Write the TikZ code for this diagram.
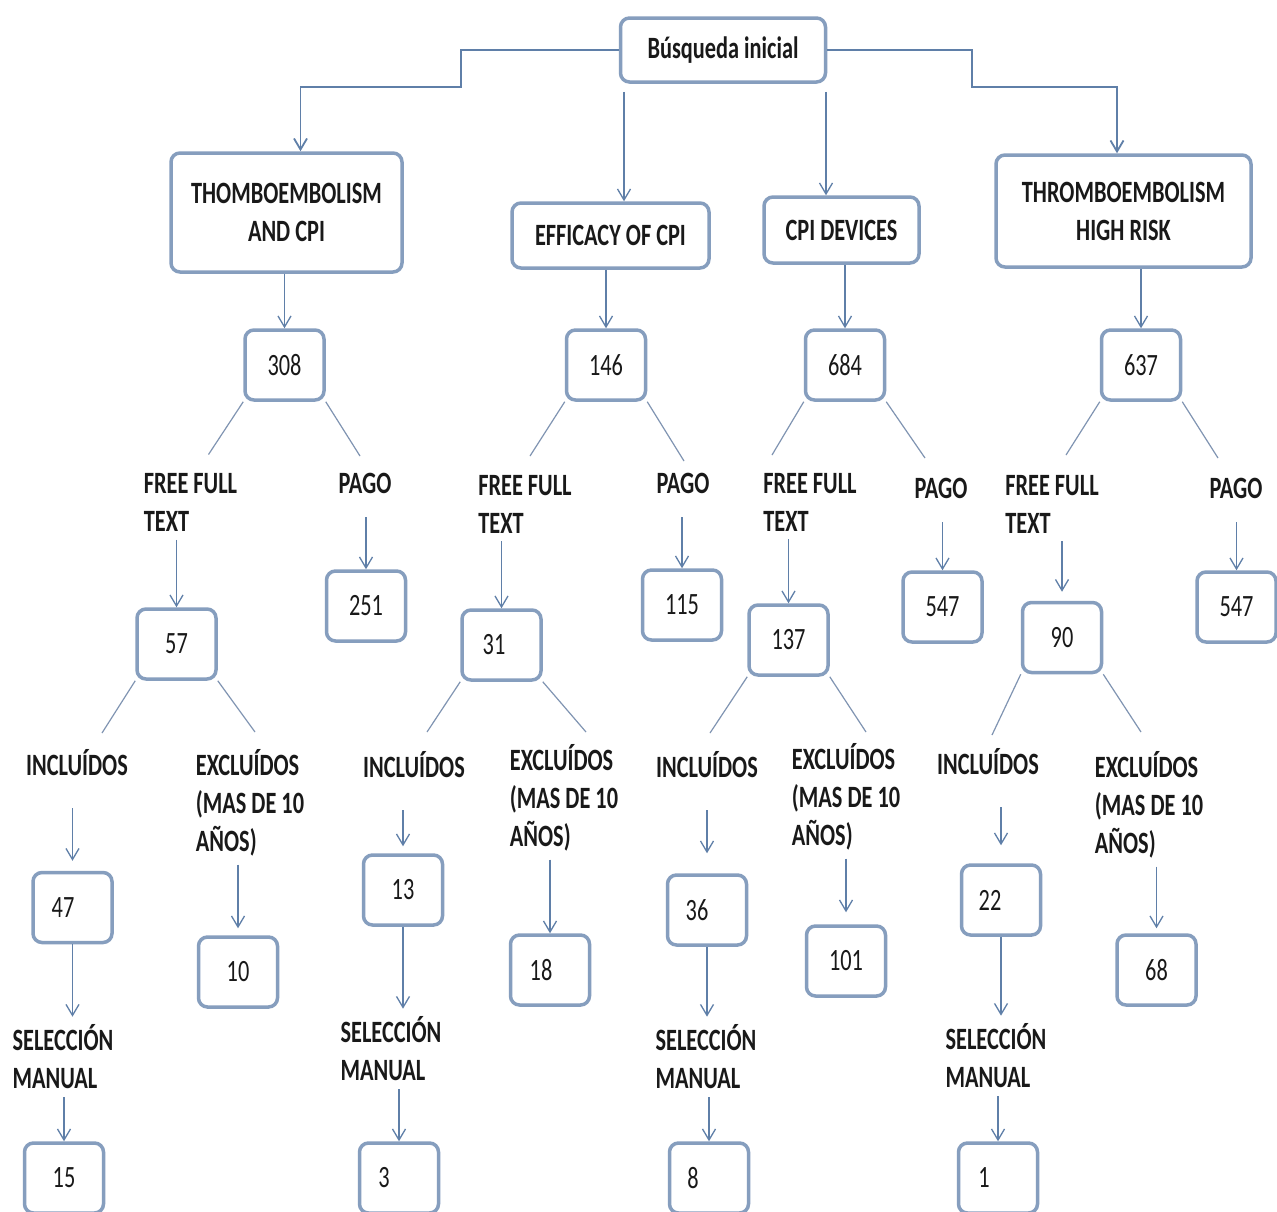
\documentclass[tikz,border=0pt]{standalone}
\usepackage{fontspec}
\setmainfont{Carlito}[FakeStretch=0.72]
\usetikzlibrary{arrows.meta}
\definecolor{boxc}{RGB}{134,158,190}
\definecolor{arrc}{RGB}{95,127,168}
\definecolor{lnc}{RGB}{128,148,178}
\definecolor{txtc}{RGB}{25,25,25}
\newcommand{\numfont}{\fontsize{31}{39}\selectfont}
\newcommand{\lblfont}{\fontsize{31}{38}\selectfont\bfseries}

\begin{document}
\begin{tikzpicture}[x=1pt,y=-1pt,
    box/.style={draw=boxc, line width=3.5pt, rounded corners=9pt, fill=white,
        minimum width=79pt, minimum height=70pt, align=center, text=txtc, font=\numfont},
    hbox/.style={box, font=\lblfont},
    lbl/.style={align=left, inner sep=8pt, text=txtc, font=\lblfont},
    arr/.style={draw=arrc, line width=1.3pt, -{Straight Barb[length=11pt,width=13pt]}},
    ln/.style={draw=lnc, line width=1.2pt}]
    \fill[white] (0,0) rectangle (1277,1211);
    \useasboundingbox (0,0) rectangle (1277,1211);

    \node[hbox, minimum width=205pt, minimum height=64pt] (root) at (723,50) {Búsqueda inicial};
    \node[hbox, minimum width=231pt, minimum height=119pt] (t1) at (286.5,212.5) {THOMBOEMBOLISM\\AND CPI};
    \node[hbox, minimum width=197pt, minimum height=65pt] (t2) at (610.5,235.5) {EFFICACY OF CPI};
    \node[hbox, minimum width=155pt, minimum height=66pt] (t3) at (841.5,230) {CPI DEVICES};
    \node[hbox, minimum width=255pt, minimum height=112pt] (t4) at (1123.5,211) {THROMBOEMBOLISM\\HIGH RISK};

    \node[box] (a1) at (284.5,365) {308};
    \node[box] (a2) at (606,365) {146};
    \node[box] (a3) at (845,365) {684};
    \node[box] (a4) at (1141,365) {637};

    \node[lbl] (f1) at (190.5,502.5) {FREE FULL\\TEXT};
    \node[lbl] (p1) at (365,483) {PAGO};
    \node[lbl] (f2) at (525,504) {FREE FULL\\TEXT};
    \node[lbl] (p2) at (683,483) {PAGO};
    \node[lbl] (f3) at (810,502) {FREE FULL\\TEXT};
    \node[lbl] (p3) at (941,488) {PAGO};
    \node[lbl] (f4) at (1052,504) {FREE FULL\\TEXT};
    \node[lbl] (p4) at (1236,488) {PAGO};

    \node[box] (b1) at (176.5,644) {57};
    \node[box] (c1) at (366,606) {251};
    \node[box] (b2) at (501.5,645) {31\hspace{15pt}};
    \node[box] (c2) at (682,605) {115};
    \node[box] (b3) at (788.5,640) {137};
    \node[box] (c3) at (942.5,607) {547};
    \node[box] (b4) at (1062,637.5) {90};
    \node[box] (c4) at (1236.5,607) {547};

    \node[lbl] (i1) at (77,763) {INCLUÍDOS};
    \node[lbl] (e1) at (250,803) {EXCLUÍDOS\\(MAS DE 10\\AÑOS)};
    \node[lbl] (i2) at (414,765) {INCLUÍDOS};
    \node[lbl] (e2) at (564,798) {EXCLUÍDOS\\(MAS DE 10\\AÑOS)};
    \node[lbl] (i3) at (707,765) {INCLUÍDOS};
    \node[lbl] (e3) at (846,797) {EXCLUÍDOS\\(MAS DE 10\\AÑOS)};
    \node[lbl] (i4) at (988,762) {INCLUÍDOS};
    \node[lbl] (e4) at (1149,805) {EXCLUÍDOS\\(MAS DE 10\\AÑOS)};

    \node[box] (d1) at (72.5,907.5) {47\hspace{19pt}};
    \node[box] (g1) at (238,972) {10};
    \node[box] (d2) at (403,890) {13};
    \node[box] (g2) at (550,970) {18\hspace{18pt}};
    \node[box] (d3) at (707,910) {36\hspace{20pt}};
    \node[box] (g3) at (846,961) {101};
    \node[box] (d4) at (1001,900) {22\hspace{22pt}};
    \node[box] (g4) at (1156.5,970) {68};

    \node[lbl] (s1) at (63,1057) {SELECCIÓN\\MANUAL};
    \node[lbl] (s2) at (391,1049) {SELECCIÓN\\MANUAL};
    \node[lbl] (s3) at (706,1057) {SELECCIÓN\\MANUAL};
    \node[lbl] (s4) at (996,1056) {SELECCIÓN\\MANUAL};

    \node[box] (h1) at (64,1178) {15};
    \node[box] (h2) at (399,1178) {3\hspace{30pt}};
    \node[box] (h3) at (709,1178) {8\hspace{32pt}};
    \node[box] (h4) at (998,1178) {1\hspace{28pt}};

    \draw[arr, line width=1.8pt] (root.west) -| (461,87) -| ([xshift=14pt]t1.north);
    \draw[arr, line width=1.8pt] (root.east) -| (972,87) -| ([xshift=-6.5pt]t4.north);
    \draw[arr] ([shift={(-99pt,-8pt)}]root.south) -- ([xshift=13.5pt]t2.north);
    \draw[arr] ([shift={(103pt,-8pt)}]root.south) -- ([xshift=-15.5pt]t3.north);

    \draw[arr] (t1.south -| a1.north) -- (a1.north);
    \draw[arr] (t2.south -| a2.north) -- (a2.north);
    \draw[arr] (t3.south -| a3.north) -- (a3.north);
    \draw[arr] (t4.south -| a4.north) -- (a4.north);

    \draw[ln] (a1.south west) -- ([shift={(18pt,48pt)}]f1.center);
    \draw[ln] (a1.south east) -- ([shift={(-5pt,27pt)}]p1.center);
    \draw[ln] (a2.south west) -- ([shift={(5pt,48pt)}]f2.center);
    \draw[ln] (a2.south east) -- ([shift={(1pt,22pt)}]p2.center);
    \draw[ln] (a3.south west) -- ([shift={(-38pt,47pt)}]f3.center);
    \draw[ln] (a3.south east) -- ([shift={(-16pt,30pt)}]p3.center);
    \draw[ln] (a4.south west) -- ([shift={(14pt,49pt)}]f4.center);
    \draw[ln] (a4.south east) -- ([shift={(-18pt,30pt)}]p4.center);

    \draw[arr] (f1.south -| b1.north) -- (b1.north);
    \draw[arr, shorten <=16pt] (p1.south -| c1.north) -- (c1.north);
    \draw[arr] (f2.south -| b2.north) -- (b2.north);
    \draw[arr, shorten <=16pt] (p2.south -| c2.north) -- (c2.north);
    \draw[arr] (f3.south -| b3.north) -- (b3.north);
    \draw[arr, shorten <=16pt] (p3.south -| c3.north) -- (c3.north);
    \draw[arr, shorten >=9pt] (f4.south -| b4.north) -- (b4.north);
    \draw[arr, shorten <=16pt] (p4.south -| c4.north) -- (c4.north);

    \draw[ln] (b1.south west) -- ([shift={(25pt,30pt)}]i1.center);
    \draw[ln] (b1.south east) -- ([shift={(5pt,71pt)}]e1.center);
    \draw[ln] (b2.south west) -- ([shift={(13pt,33pt)}]i2.center);
    \draw[ln] (b2.south east) -- ([shift={(22pt,66pt)}]e2.center);
    \draw[ln] (b3.south west) -- ([shift={(3pt,32pt)}]i3.center);
    \draw[ln] (b3.south east) -- ([shift={(20pt,65pt)}]e3.center);
    \draw[ln] (b4.south west) -- ([shift={(4pt,27pt)}]i4.center);
    \draw[ln] (b4.south east) -- ([shift={(-8pt,73pt)}]e4.center);

    \draw[arr, shorten <=24pt, shorten >=10pt] (i1.south -| d1.north) -- (d1.north);
    \draw[arr, shorten >=7pt] (e1.south -| g1.north) -- (g1.north);
    \draw[arr, shorten <=24pt, shorten >=7pt] (i2.south -| d2.north) -- (d2.north);
    \draw[arr] (e2.south -| g2.north) -- (g2.north);
    \draw[arr, shorten <=24pt, shorten >=20pt] (i3.south -| d3.north) -- (d3.north);
    \draw[arr, shorten >=12pt] (e3.south -| g3.north) -- (g3.north);
    \draw[arr, shorten <=24pt, shorten >=18pt] (i4.south -| d4.north) -- (d4.north);
    \draw[arr, shorten >=5pt] (e4.south -| g4.north) -- (g4.north);

    \draw[arr] (d1.south) -- (d1.south |- s1.north);
    \draw[arr] (d2.south) -- (d2.south |- s2.north);
    \draw[arr] (d3.south) -- (d3.south |- s3.north);
    \draw[arr] (d4.south) -- (d4.south |- s4.north);

    \draw[arr] (s1.south -| h1.north) -- (h1.north);
    \draw[arr] (s2.south -| h2.north) -- (h2.north);
    \draw[arr] (s3.south -| h3.north) -- (h3.north);
    \draw[arr] (s4.south -| h4.north) -- (h4.north);
\end{tikzpicture}
\end{document}
